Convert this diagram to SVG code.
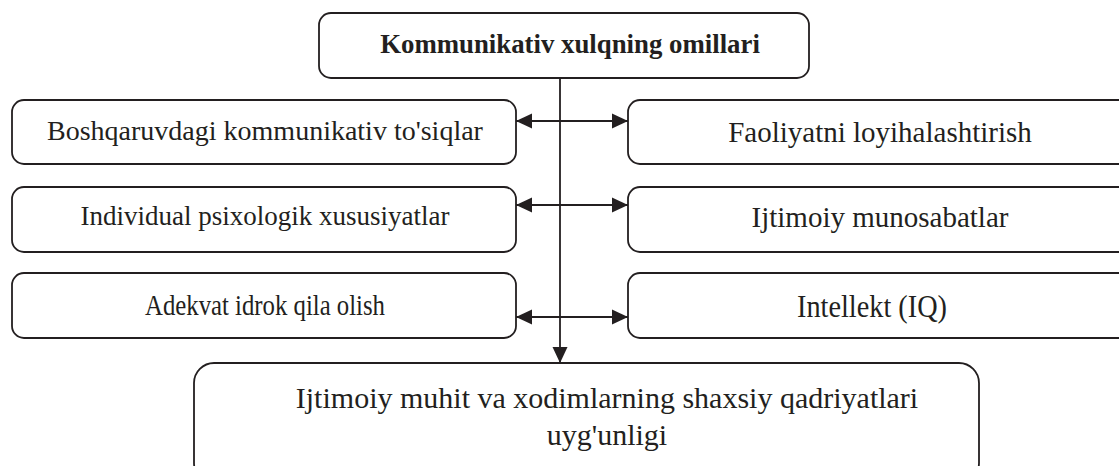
<svg xmlns="http://www.w3.org/2000/svg" width="1119" height="466" viewBox="0 0 1119 466">
<style>
.box{fill:#fff;stroke:#231f20;stroke-width:1.8}
.t{fill:#231f20;text-anchor:middle;font-family:"Liberation Serif","Times New Roman",serif}
.ln{stroke:#231f20;stroke-width:1.8;fill:none}
</style>
<defs>
<marker id="ah" markerUnits="userSpaceOnUse" markerWidth="16" markerHeight="16" viewBox="0 0 16 16" refX="16" refY="8" orient="auto-start-reverse">
<path d="M0,0.5 L16,8 L0,15.5 Z" fill="#231f20"/>
</marker>
</defs>
<rect width="1119" height="466" fill="#fff"/>
<g id="connectors">
<line class="ln" x1="560" y1="78" x2="560" y2="363" marker-end="url(#ah)"/>
<line class="ln" x1="516" y1="121" x2="628" y2="121" marker-start="url(#ah)" marker-end="url(#ah)"/>
<line class="ln" x1="516" y1="205" x2="628" y2="205" marker-start="url(#ah)" marker-end="url(#ah)"/>
<line class="ln" x1="516" y1="317" x2="628" y2="317" marker-start="url(#ah)" marker-end="url(#ah)"/>
</g>
<g id="top">
<rect class="box" x="319" y="13" width="490" height="65" rx="12"/>
<text class="t" x="570" y="53" font-size="26.8" font-weight="bold">Kommunikativ xulqning omillari</text>
</g>
<g id="left1">
<rect class="box" x="12" y="100" width="504" height="64" rx="12"/>
<text class="t" x="265" y="140" font-size="28">Boshqaruvdagi kommunikativ to'siqlar</text>
</g>
<g id="right1">
<rect class="box" x="628" y="100" width="504" height="64" rx="12"/>
<text class="t" x="880" y="142" font-size="29">Faoliyatni loyihalashtirish</text>
</g>
<g id="left2">
<rect class="box" x="12" y="187" width="504" height="65" rx="12"/>
<text class="t" x="265" y="225" font-size="27">Individual psixologik xususiyatlar</text>
</g>
<g id="right2">
<rect class="box" x="628" y="187" width="504" height="65" rx="12"/>
<text class="t" x="880" y="227" font-size="29">Ijtimoiy munosabatlar</text>
</g>
<g id="left3">
<rect class="box" x="12" y="273" width="504" height="65" rx="12"/>
<text class="t" x="265" y="315" font-size="30" textLength="240" lengthAdjust="spacingAndGlyphs">Adekvat idrok qila olish</text>
</g>
<g id="right3">
<rect class="box" x="628" y="273" width="504" height="65" rx="12"/>
<text class="t" x="872" y="317" font-size="31" textLength="150" lengthAdjust="spacingAndGlyphs">Intellekt (IQ)</text>
</g>
<g id="bottom">
<rect class="box" x="194" y="363" width="785" height="120" rx="20"/>
<text class="t" x="607" y="408" font-size="30">Ijtimoiy muhit va xodimlarning shaxsiy qadriyatlari</text>
<text class="t" x="607" y="445" font-size="30">uyg'unligi</text>
</g>
</svg>
